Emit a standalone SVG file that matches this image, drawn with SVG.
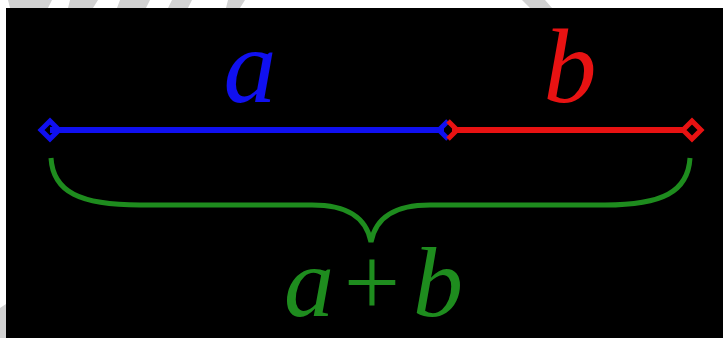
<svg xmlns="http://www.w3.org/2000/svg" width="723" height="338" viewBox="0 0 723 338">
<style>
.lbl{font-family:"Liberation Serif","DejaVu Serif",serif;font-size:106px;text-anchor:middle}
.sum{font-family:"Liberation Serif","DejaVu Serif",serif;font-size:100px;text-anchor:middle;fill:#1e8c1e}
.it{font-style:italic}
.wm{fill:#d2d2d2}
</style>
<rect width="723" height="338" fill="#ffffff"/>
<g id="watermark">
<polygon class="wm" points="8,0 52,0 48,8 10,8"/>
<polygon class="wm" points="70,0 98,0 93,8 68,8"/>
<polygon class="wm" points="120,0 150,0 146,8 117,8"/>
<polygon class="wm" points="172,0 192,0 188,8 168,8"/>
<polygon class="wm" points="228,0 245,0 240,8 226,8"/>
<polygon class="wm" points="522,0 545,0 552,8 530,8"/>
<polygon class="wm" points="0,308 6,304 6,338 0,338"/>
</g>
<rect x="6" y="8" width="717" height="330" fill="#000000"/>
<g id="segment-a">
<line x1="50" y1="130" x2="444" y2="130" stroke="#1010f0" stroke-width="6"/>
<path d="M50,121 L59,130 L50,139 L41,130 Z" fill="none" stroke="#1010f0" stroke-width="5"/>
<path d="M448,121 L439,130 L448,139" fill="none" stroke="#1010f0" stroke-width="5"/>
<text class="lbl it" x="250" y="102" fill="#1010f0">a</text>
</g>
<g id="segment-b">
<line x1="452" y1="130" x2="683" y2="130" stroke="#e81212" stroke-width="6"/>
<path d="M448,121 L457,130 L448,139" fill="none" stroke="#e81212" stroke-width="5"/>
<path d="M692,121 L701,130 L692,139 L683,130 Z" fill="none" stroke="#e81212" stroke-width="5"/>
<text class="lbl it" x="570" y="102" fill="#e81212">b</text>
</g>
<g id="sum">
<path d="M51,158 C53,192 80,205 140,205 L312,205 C346,205 366,216 371,242 C376,216 396,205 430,205 L605,205 C662,205 688,192 690,158" fill="none" stroke="#1e8c1e" stroke-width="5"/>
<text class="sum" x="372" y="316"><tspan class="it" x="309">a</tspan><tspan x="372">+</tspan><tspan class="it" x="438">b</tspan></text>
</g>
</svg>
